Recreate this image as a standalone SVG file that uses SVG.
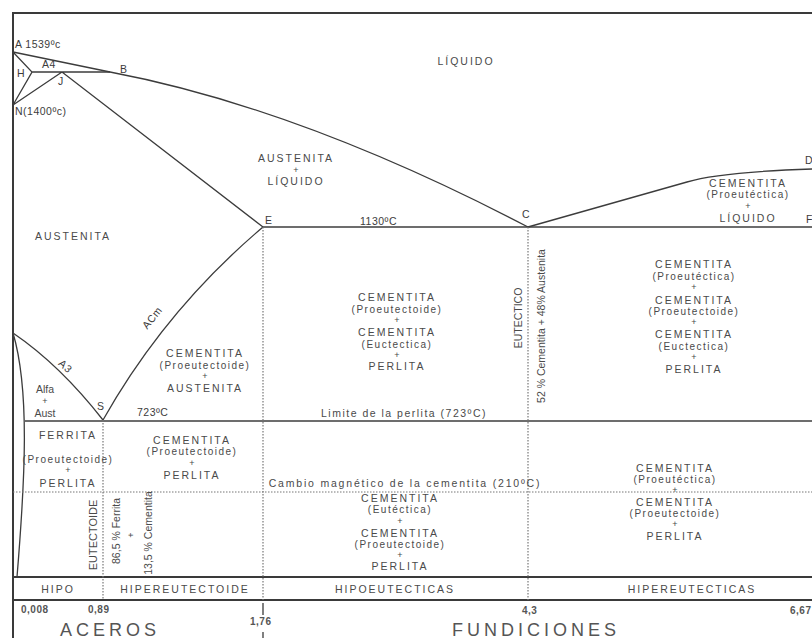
<svg xmlns="http://www.w3.org/2000/svg" width="812" height="638" viewBox="0 0 812 638">
<style>
text{font-family:"Liberation Sans",Arial,sans-serif;fill:#4a4a4a;font-size:10.5px}
.c{text-anchor:middle}
.cap{letter-spacing:2px}
.low{letter-spacing:1.5px;font-size:10px}
.pl{font-size:9px}
.pt{fill:#3c3c3c;letter-spacing:0.5px}
.num{font-weight:bold;font-size:10px;fill:#555;letter-spacing:0.5px}
.big{font-size:18px;letter-spacing:4px;fill:#555}
.ln{fill:none;stroke:#3c3c3c;stroke-width:1.3}
.bd{fill:none;stroke:#3a3a3a;stroke-width:2}
.dt{fill:none;stroke:#777;stroke-width:1.2;stroke-dasharray:1.5 1.5}
</style>
<rect width="812" height="638" fill="#fff"/>
<g id="connectors">
<path class="bd" d="M13,638 V13 H812"/>
<path class="bd" d="M13,577 H812 M13,600 H812"/>
<path class="ln" d="M13,52 L110,72 Q300,108 528,227"/>
<path class="ln" d="M13,52 L32,72 L13,105 M32,72 H110 M13,105 L62,72 L263,227"/>
<path class="ln" d="M263,227 H812"/>
<path class="ln" d="M528,227 L687,182 Q720,172 812,169"/>
<path class="ln" d="M263,227 Q165,310 103,420"/>
<path class="ln" d="M13,333 Q60,365 103,420"/>
<path class="ln" d="M13,333 C30,390 25,480 17,577"/>
<path class="ln" d="M25,421 H812"/>
<path class="dt" d="M13,492 H812"/>
<path class="dt" d="M103,420 V600 M263,227 V600 M528,227 V600"/>
<path class="ln" d="M263,603 V615 M263,632 V638"/>
</g>
<g id="points">
<text class="pt" x="15" y="48">A 1539ºc</text>
<text class="pt" x="17" y="77">H</text>
<text class="pt" x="42" y="68">A4</text>
<text class="pt" x="58" y="85">J</text>
<text class="pt" x="120" y="73">B</text>
<text class="pt" x="15" y="115">N(1400ºc)</text>
<text class="pt" x="265" y="224">E</text>
<text class="pt" x="360" y="225">1130ºC</text>
<text class="pt" x="522" y="218">C</text>
<text class="pt" x="805" y="164">D</text>
<text class="pt" x="806" y="223">F</text>
<text class="pt" x="97" y="410">S</text>
<text class="pt" x="137" y="416">723ºC</text>
</g>
<g id="liquido"><text class="c cap" x="466" y="65">LÍQUIDO</text></g>
<g id="aust-liq">
<text class="c cap" x="296" y="162">AUSTENITA</text>
<text class="c pl" x="296" y="173">+</text>
<text class="c cap" x="296" y="185">LÍQUIDO</text>
</g>
<g id="cem-liq">
<text class="c cap" x="748" y="187">CEMENTITA</text>
<text class="c low" x="748" y="198">(Proeutéctica)</text>
<text class="c pl" x="748" y="209">+</text>
<text class="c cap" x="748" y="222">LÍQUIDO</text>
</g>
<g id="austenita"><text class="c cap" x="73" y="240">AUSTENITA</text></g>
<g id="labels-lines">
<text transform="translate(155,320) rotate(-52)" class="c pt">ACm</text>
<text transform="translate(63,369) rotate(42)" class="c pt">A3</text>
</g>
<g id="cem-aust">
<text class="c cap" x="205" y="357">CEMENTITA</text>
<text class="c low" x="205" y="369">(Proeutectoide)</text>
<text class="c pl" x="205" y="379">+</text>
<text class="c cap" x="205" y="392">AUSTENITA</text>
</g>
<g id="alfa-aust">
<text class="c" x="45" y="393">Alfa</text>
<text class="c pl" x="45" y="404">+</text>
<text class="c" x="45" y="417">Aust</text>
</g>
<g id="ec-region">
<text class="c cap" x="397" y="301">CEMENTITA</text>
<text class="c low" x="397" y="313">(Proeutectoide)</text>
<text class="c pl" x="397" y="323">+</text>
<text class="c cap" x="397" y="336">CEMENTITA</text>
<text class="c low" x="397" y="348">(Euctectica)</text>
<text class="c pl" x="397" y="358">+</text>
<text class="c cap" x="397" y="370">PERLITA</text>
</g>
<g id="eutectico">
<text transform="translate(522,318) rotate(-90)" class="c">EUTECTICO</text>
<text transform="translate(545,326) rotate(-90)" class="c">52 % Cementita + 48% Austenita</text>
</g>
<g id="right-region">
<text class="c cap" x="694" y="268">CEMENTITA</text>
<text class="c low" x="694" y="280">(Proeutéctica)</text>
<text class="c pl" x="694" y="290">+</text>
<text class="c cap" x="694" y="304">CEMENTITA</text>
<text class="c low" x="694" y="315">(Proeutectoide)</text>
<text class="c pl" x="694" y="325">+</text>
<text class="c cap" x="694" y="338">CEMENTITA</text>
<text class="c low" x="694" y="350">(Euctectica)</text>
<text class="c pl" x="694" y="360">+</text>
<text class="c cap" x="694" y="373">PERLITA</text>
</g>
<g id="limite"><text class="c low" style="font-size:10.5px" x="404" y="417">Limite de la perlita (723ºC)</text></g>
<g id="ferrita">
<text class="c cap" x="68" y="439">FERRITA</text>
<text class="c low" x="68" y="463">(Proeutectoide)</text>
<text class="c pl" x="68" y="473">+</text>
<text class="c cap" x="68" y="487">PERLITA</text>
</g>
<g id="cem-perl">
<text class="c cap" x="192" y="444">CEMENTITA</text>
<text class="c low" x="192" y="455">(Proeutectoide)</text>
<text class="c pl" x="192" y="466">+</text>
<text class="c cap" x="192" y="479">PERLITA</text>
</g>
<g id="cambio"><text class="c" style="letter-spacing:1.8px" x="405" y="487">Cambio magnético de la cementita (210ºC)</text></g>
<g id="low-mid">
<text class="c cap" x="400" y="502">CEMENTITA</text>
<text class="c low" x="400" y="513">(Eutéctica)</text>
<text class="c pl" x="400" y="524">+</text>
<text class="c cap" x="400" y="537">CEMENTITA</text>
<text class="c low" x="400" y="548">(Proeutectoide)</text>
<text class="c pl" x="400" y="558">+</text>
<text class="c cap" x="400" y="570">PERLITA</text>
</g>
<g id="low-right">
<text class="c cap" x="675" y="472">CEMENTITA</text>
<text class="c low" x="675" y="483">(Proeutéctica)</text>
<text class="c pl" x="675" y="493">+</text>
<text class="c cap" x="675" y="506">CEMENTITA</text>
<text class="c low" x="675" y="517">(Proeutectoide)</text>
<text class="c pl" x="675" y="527">+</text>
<text class="c cap" x="675" y="540">PERLITA</text>
</g>
<g id="eutectoide">
<text transform="translate(97,535) rotate(-90)" class="c" style="font-size:11px">EUTECTOIDE</text>
<text transform="translate(120,531) rotate(-90)" class="c">86,5 % Ferrita</text>
<text transform="translate(134,535) rotate(-90)" class="c pl">+</text>
<text transform="translate(152,533) rotate(-90)" class="c">13,5 % Cementita</text>
</g>
<g id="bottom-row">
<text class="c cap" x="58" y="593">HIPO</text>
<text class="c cap" x="185" y="593">HIPEREUTECTOIDE</text>
<text class="c cap" x="395" y="593">HIPOEUTECTICAS</text>
<text class="c cap" x="692" y="593">HIPEREUTECTICAS</text>
</g>
<g id="axis">
<text class="num" x="21" y="613">0,008</text>
<text class="num" x="88" y="613">0,89</text>
<text class="num" x="250" y="625">1,76</text>
<text class="num" x="522" y="614">4,3</text>
<text class="num" x="790" y="614">6,67</text>
<text class="big" x="60" y="636">ACEROS</text>
<text class="big" x="452" y="636">FUNDICIONES</text>
</g>
</svg>
